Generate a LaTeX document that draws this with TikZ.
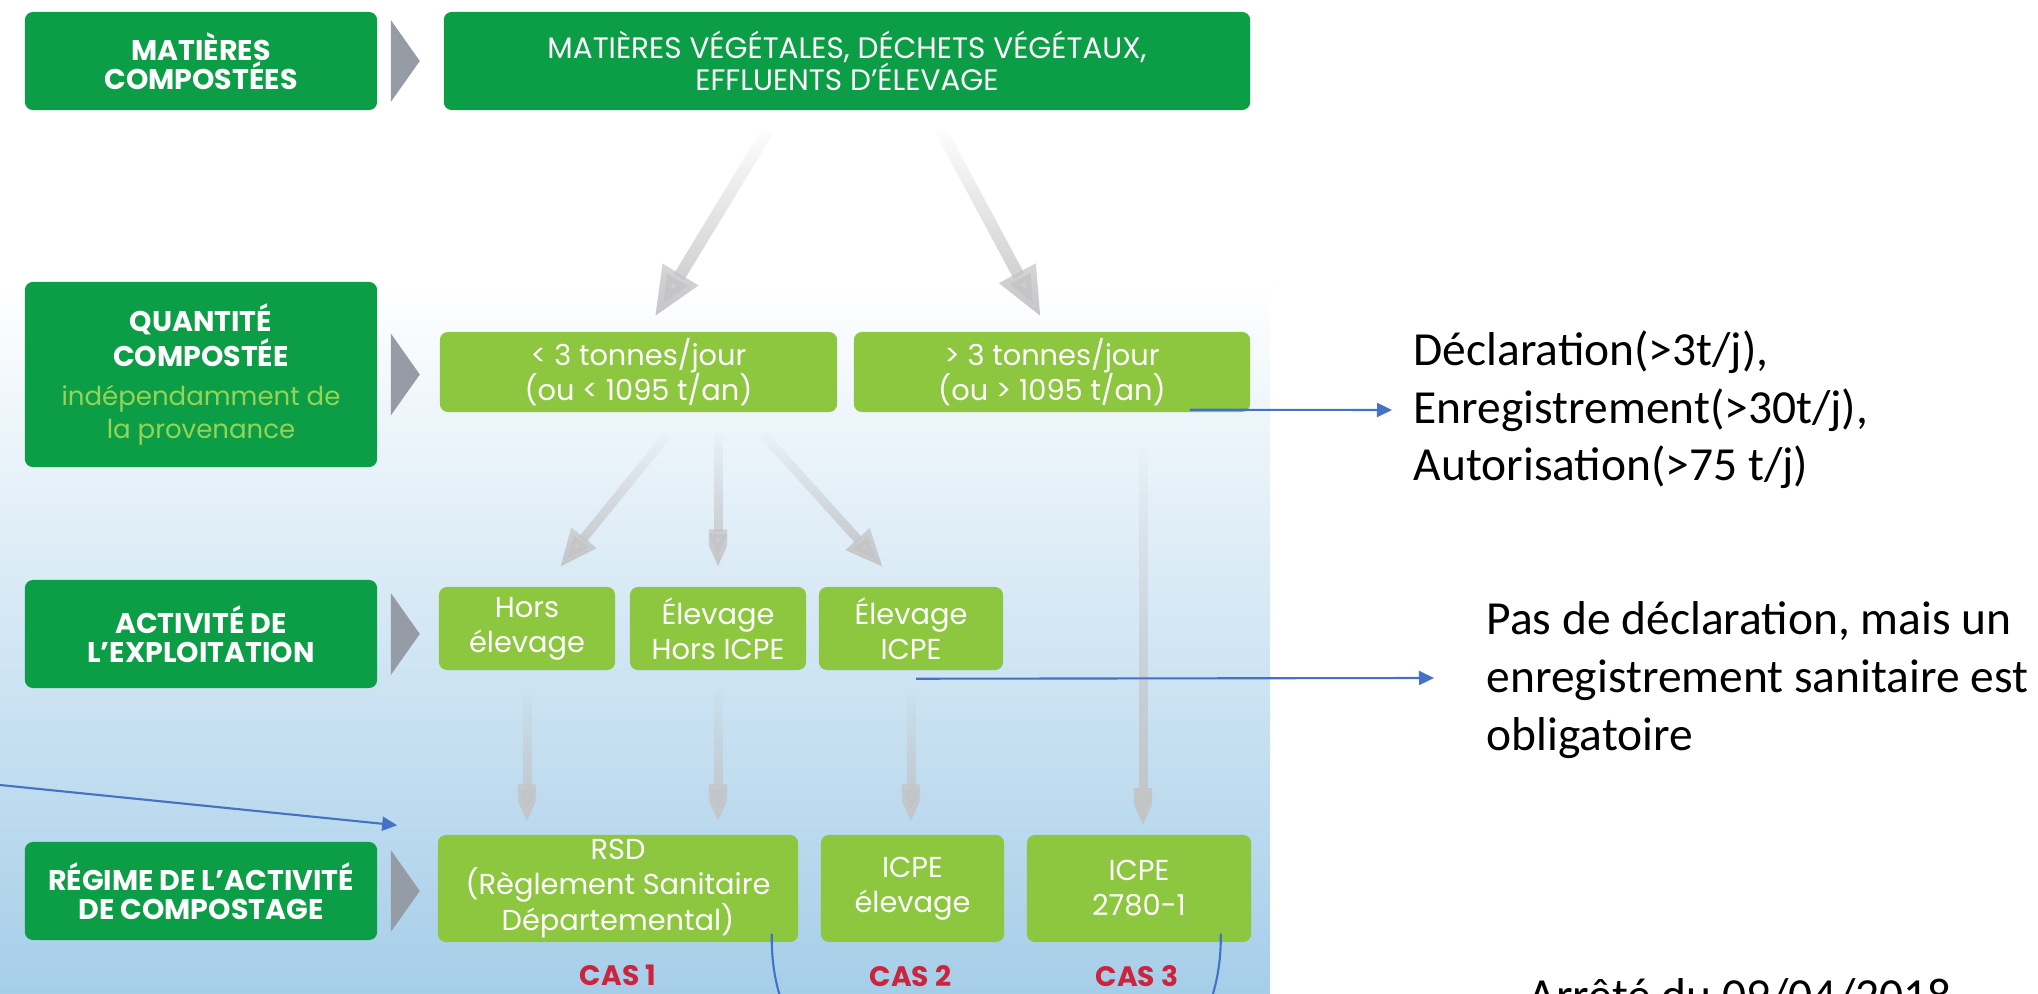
\documentclass[tikz,border=0pt]{standalone}
\usepackage{fontspec}
\usepackage{xcolor}
\usetikzlibrary{arrows.meta, positioning, calc, fadings}
\setmainfont{Poppins}
\newfontfamily\notefont{Carlito}
\definecolor{catgreen}{RGB}{12,158,70}
\definecolor{optgreen}{RGB}{141,198,63}
\definecolor{provgreen}{RGB}{150,212,86}
\definecolor{chevgray}{RGB}{150,156,166}
\definecolor{arrowgray}{RGB}{196,196,198}
\definecolor{casred}{RGB}{204,36,60}
\definecolor{noteblue}{RGB}{68,114,196}
\definecolor{panelblue}{RGB}{166,206,233}
\tikzfading[name=fadetop, top color=transparent!100, middle color=transparent!0, bottom color=transparent!0]
\newcommand\prov[1]{{\mdseries\color{provgreen}\fontsize{7.4}{8.5}\selectfont #1}}
\tikzset{
  catbox/.style={fill=catgreen, rounded corners=0.08cm, inner sep=0pt, minimum width=3.52cm,
    align=center, text=white, font=\bfseries\fontsize{8.1}{8.3}\selectfont},
  optbox/.style={fill=optgreen, rounded corners=0.08cm, inner sep=0pt, align=center,
    text=white, font=\fontsize{8.2}{10}\selectfont},
  caslabel/.style={text=casred, font=\bfseries\fontsize{8}{9}\selectfont},
  chevron/.style={fill=chevgray},
  flow/.style={draw=arrowgray, line width=0.09cm, path fading=fadetop,
    -{Triangle[length=0.38cm,width=0.30cm]}},
  bigflow/.style={flow, line width=0.12cm, -{Triangle[length=0.5cm,width=0.38cm]}},
  note/.style={font=\notefont\fontsize{13.5}{16.4}\selectfont, align=left, inner sep=0pt, anchor=west},
  pointer/.style={draw=noteblue, line width=0.6pt, -{Triangle[length=0.15cm,width=0.14cm]}},
}
\begin{document}
\begin{tikzpicture}[x=0.01cm, y=-0.01cm]
  \useasboundingbox (0,0) rectangle (2038,994);
  % background panel
  \fill[white] (0,0) rectangle (2038,994);
  \shade[top color=white, bottom color=panelblue] (0,280) rectangle (1270,994);

  % row headers
  \node[catbox, minimum height=0.98cm] (mat-cat) at (201,61) {MATIÈRES\\COMPOSTÉES};
  \node[catbox, minimum height=1.85cm] (qty-cat) at (201,374.5)
    {QUANTITÉ\\COMPOSTÉE\\[0.1cm]\prov{indépendamment de}\\[0.03cm]\prov{la provenance}};
  \node[catbox, minimum height=1.08cm] (act-cat) at (201,634) {ACTIVITÉ DE\\L'EXPLOITATION};
  \node[catbox, minimum height=0.98cm] (reg-cat) at (201,891) {RÉGIME DE L'ACTIVITÉ\\DE COMPOSTAGE};
  \foreach \c in {mat-cat, qty-cat, act-cat, reg-cat}
    \fill[chevron] ($(\c.east)+(13,-41)$) -- ++(29,41) -- ++(-29,41) -- cycle;

  % boxes
  \node[catbox, minimum width=8.06cm, minimum height=0.98cm, font=\fontsize{8.4}{9.2}\selectfont]
    (mat) at (847,61) {MATIÈRES VÉGÉTALES, DÉCHETS VÉGÉTAUX,\\EFFLUENTS D'ÉLEVAGE};
  \node[optbox, minimum width=3.97cm, minimum height=0.8cm] (lt3) at (638.5,372) {< 3 tonnes/jour\\(ou < 1095 t/an)};
  \node[optbox, minimum width=3.96cm, minimum height=0.8cm] (gt3) at (1052,372) {> 3 tonnes/jour\\(ou > 1095 t/an)};
  \node[optbox, minimum width=1.76cm, minimum height=0.83cm] (hors) at (527,628.5) {Hors\\élevage};
  \node[optbox, minimum width=1.76cm, minimum height=0.83cm] (elev) at (718,628.5) {Élevage\\Hors ICPE};
  \node[optbox, minimum width=1.84cm, minimum height=0.83cm] (icpe) at (911,628.5) {Élevage\\ICPE};
  \node[optbox, minimum width=3.6cm, minimum height=1.07cm] (rsd) at (618,888.5)
    {RSD\\(Règlement Sanitaire\\Départemental)};
  \node[optbox, minimum width=1.83cm, minimum height=1.07cm] (icpeel) at (912.5,888.5) {ICPE\\élevage};
  \node[optbox, minimum width=2.24cm, minimum height=1.07cm] (icpe27) at (1139,888.5) {ICPE\\2780-1};
  \node[caslabel] (cas1) at ($(rsd.south)+(0,33)$) {CAS 1};
  \node[caslabel] (cas2) at ($(icpeel.south)+(-2,33)$) {CAS 2};
  \node[caslabel] (cas3) at ($(icpe27.south)+(-2,33)$) {CAS 3};

  % gray flows
  \draw[bigflow] ($(mat.south)+(-79,20)$) -- ($(lt3.north)+(16,-14)$);
  \draw[bigflow] ($(mat.south)+(94,20)$) -- ($(gt3.north)+(-11,-14)$);
  \draw[flow] ($(lt3.south)+(30,21)$) -- ($(hors.north)+(33,-19)$);
  \draw[flow] ($(lt3.south)+(79.5,21)$) -- ($(elev.north)+(0,-19)$);
  \draw[flow] ($(lt3.south)+(124,21)$) -- ($(icpe.north)+(-28,-19)$);
  \draw[flow] ($(hors.south)+(0,20)$) -- ($(hors.south |- rsd.north)+(0,-12)$);
  \draw[flow] ($(elev.south)+(0,20)$) -- ($(elev.south |- rsd.north)+(0,-12)$);
  \draw[flow] ($(icpe.south)+(0,20)$) -- ($(icpe.south |- icpeel.north)+(0,-12)$);
  \draw[flow] ($(gt3.south)+(91,30)$) -- ($(icpe27.north)+(4,-8)$);

  % notes
  \node[note] (decl) at (1413,410) {Déclaration(>3t/j),\\Enregistrement(>30t/j),\\Autorisation(>75 t/j)};
  \node[note] (sanit) at (1486,680) {Pas de déclaration, mais un\\enregistrement sanitaire est\\obligatoire};
  \node[note, anchor=base west] (arrete) at (1528,1011) {Arrêté du 09/04/2018};
  \coordinate (lfree) at (0,785);
  \draw[pointer] ($(gt3.south east)+(-61,-3)$) -- ($(decl.west)+(-21,0)$);
  \draw[pointer] ($(icpe.south)+(5,8)$) -- ($(sanit.west)+(-52,-2)$);
  \draw[pointer] (lfree) -- ($(rsd.north west)+(-40,-9)$);
  \begin{scope}
    \clip (0,0) rectangle (2038,994);
    \draw[noteblue, line width=0.6pt] ($(rsd.south east)+(-27,-9)$) .. controls (766,1200) and (1225,1200) .. ($(icpe27.south east)+(-31,-9)$);
  \end{scope}
\end{tikzpicture}
\end{document}
